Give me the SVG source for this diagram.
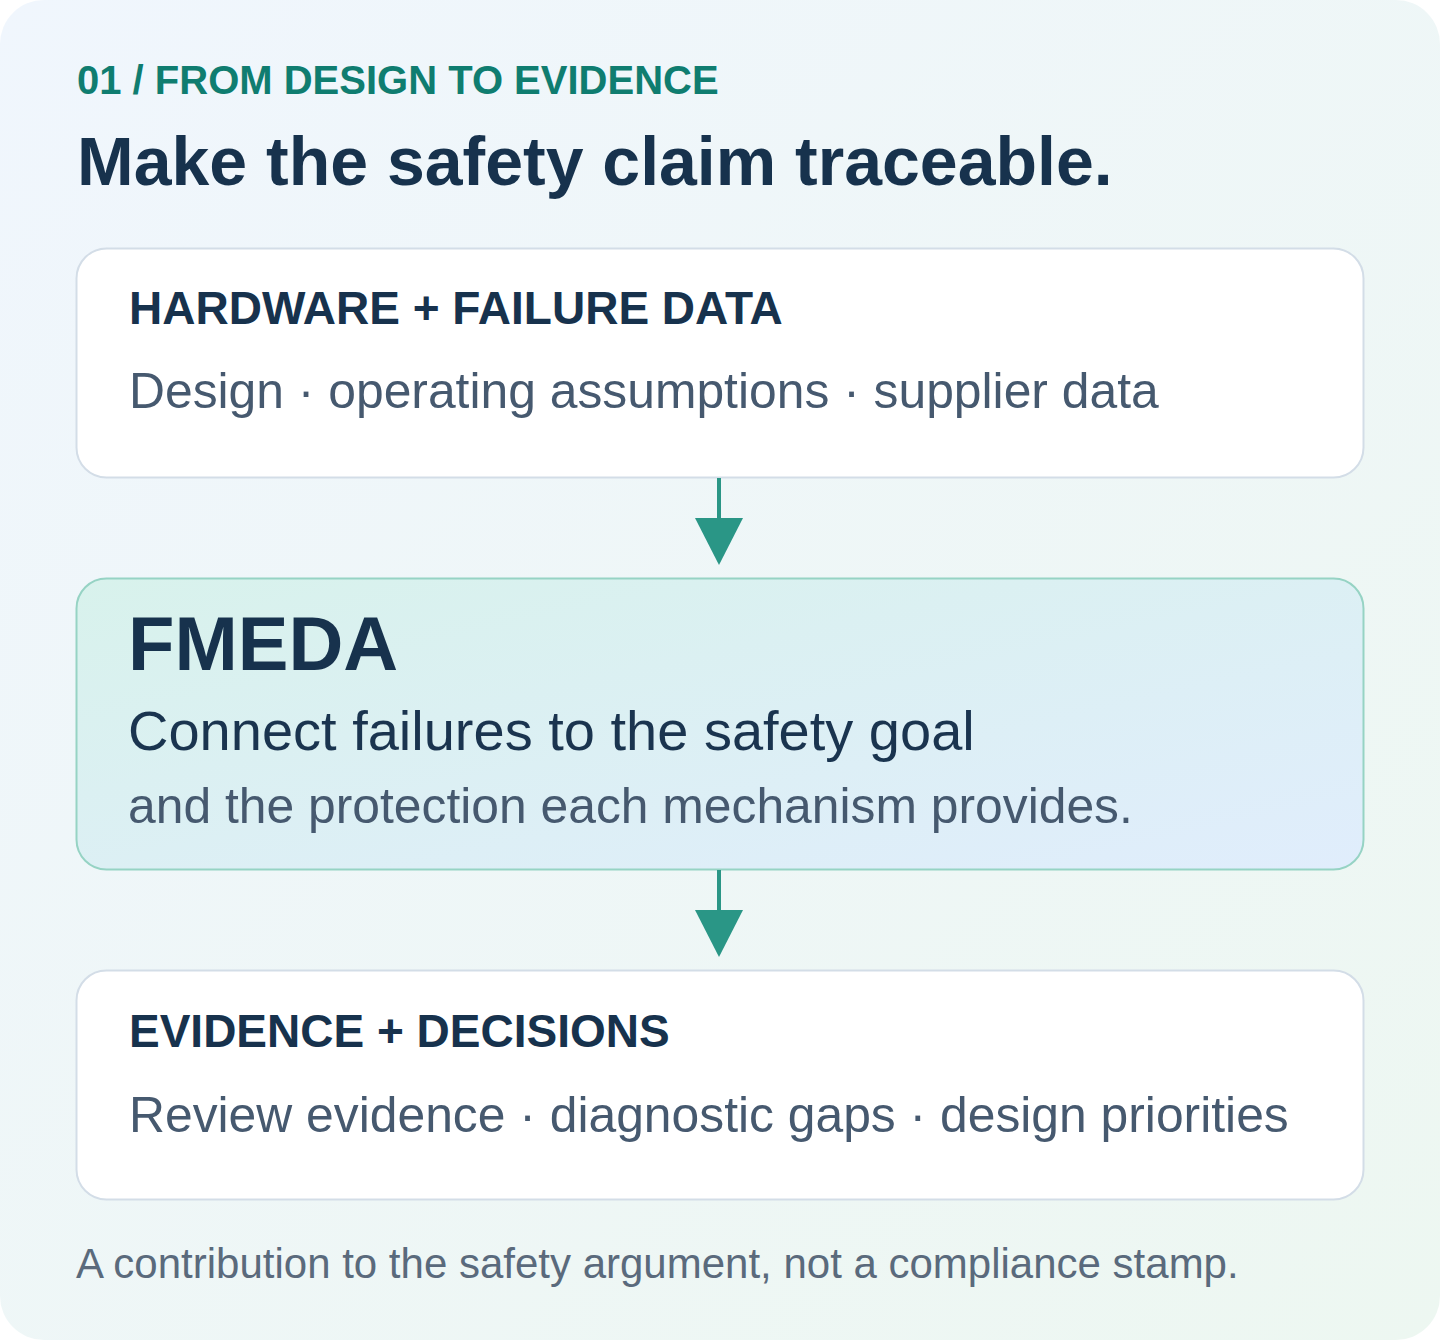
<svg xmlns="http://www.w3.org/2000/svg" width="1440" height="1340" viewBox="0 0 1440 1340">
  <defs>
    <linearGradient id="bg" x1="0" y1="0" x2="1" y2="1">
      <stop offset="0" stop-color="#f0f6fd"/>
      <stop offset="1" stop-color="#edf7f1"/>
    </linearGradient>
    <linearGradient id="hl" x1="0" y1="0" x2="1" y2="1">
      <stop offset="0" stop-color="#d8f2ec"/>
      <stop offset="1" stop-color="#e0edfc"/>
    </linearGradient>
    <style>
      text { font-family: "Liberation Sans", Arial, Helvetica, sans-serif; }
      .tag { font-size: 40px; font-weight: 700; fill: #0f7d70; }
      .title { font-size: 68px; font-weight: 700; fill: #17324d; }
      .card { fill: #ffffff; stroke: #d3dde7; stroke-width: 2; }
      .hi { fill: url(#hl); stroke: #96d3c4; stroke-width: 2; }
      .head { font-size: 46px; font-weight: 700; fill: #17324d; }
      .body { font-size: 49.8px; fill: #46596f; }
      .big { font-size: 76px; font-weight: 700; fill: #17324d; }
      .lead { font-size: 56px; fill: #1a344f; }
      .foot { font-size: 42px; fill: #5a6a7c; }
      .conn line { stroke: #2a9686; stroke-width: 4; }
      .conn polygon { fill: #2a9686; }
    </style>
  </defs>
  <rect x="0" y="0" width="1440" height="1340" fill="#ffffff"/>
  <rect x="0" y="0" width="1440" height="1340" rx="44" fill="url(#bg)"/>

  <text class="tag" x="77" y="94">01 / FROM DESIGN TO EVIDENCE</text>
  <text class="title" x="77" y="185">Make the safety claim traceable.</text>

  <g id="node-hardware">
    <rect class="card" x="76.5" y="248.5" width="1287" height="229" rx="30"/>
    <text class="head" x="129" y="324">HARDWARE + FAILURE DATA</text>
    <text class="body" x="129" y="408">Design · operating assumptions · supplier data</text>
  </g>

  <g id="node-fmeda">
    <rect class="hi" x="76.5" y="578.5" width="1287" height="291" rx="30"/>
    <text class="big" x="128" y="670">FMEDA</text>
    <text class="lead" x="128" y="750">Connect failures to the safety goal</text>
    <text class="body" x="128" y="823">and the protection each mechanism provides.</text>
  </g>

  <g id="node-evidence">
    <rect class="card" x="76.5" y="970.5" width="1287" height="229" rx="30"/>
    <text class="head" x="129" y="1047">EVIDENCE + DECISIONS</text>
    <text class="body" x="129" y="1132">Review evidence · diagnostic gaps · design priorities</text>
  </g>

  <g id="connectors" class="conn">
    <line x1="719" y1="478" x2="719" y2="522"/>
    <polygon points="695,518 743,518 719,565"/>
    <line x1="719" y1="870" x2="719" y2="914"/>
    <polygon points="695,910 743,910 719,957"/>
  </g>

  <text class="foot" x="76" y="1278">A contribution to the safety argument, not a compliance stamp.</text>
</svg>
